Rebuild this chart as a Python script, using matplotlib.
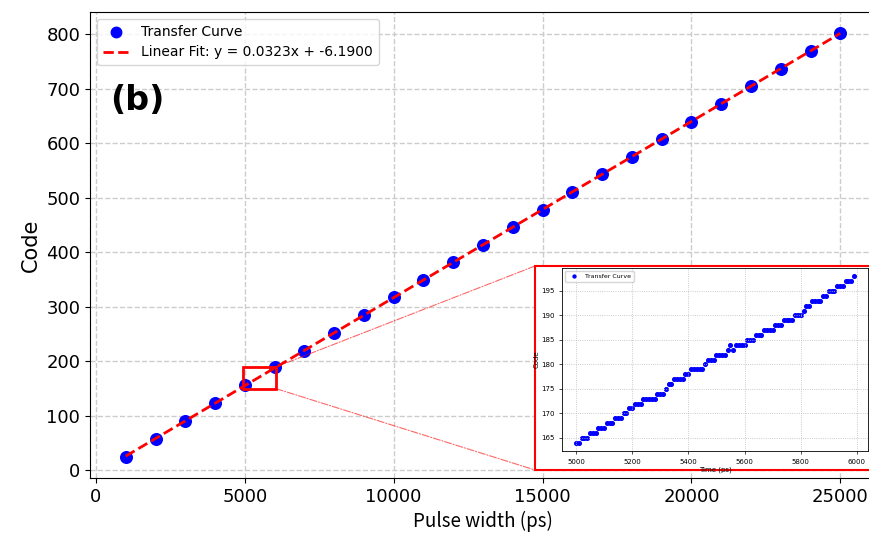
import numpy as np
import matplotlib
matplotlib.use("Agg")
from matplotlib import pyplot as plt
from matplotlib.patches import Rectangle, ConnectionPatch

# main transfer curve (pulse width in ps -> code)
pulse_width = [1000, 2000, 3000, 4000, 5000, 6000, 7000, 8000, 9000, 10000,
               11000, 12000, 13000, 14000, 15000, 16000, 17000, 18000, 19000,
               20000, 21000, 22000, 23000, 24000, 25000]
code = [25, 58, 91, 123, 156, 189, 220, 252, 285, 318,
        350, 382, 414, 446, 478, 511, 543, 575, 608,
        640, 672, 705, 737, 769, 802]
fit_label = 'Linear Fit: y = 0.0323x + -6.1900'

# zoomed region (5000..5990 ps, 10 ps step)
zoom_time = list(range(5000, 6000, 10))
zoom_code = [164, 164, 165, 165, 165, 166, 166, 166, 167, 167,
             167, 168, 168, 168, 169, 169, 169, 170, 170, 171,
             171, 172, 172, 172, 173, 173, 173, 173, 173, 174,
             174, 174, 175, 176, 176, 177, 177, 177, 177, 178,
             178, 179, 179, 179, 179, 179, 180, 181, 181, 181,
             182, 182, 182, 182, 183, 184, 183, 184, 184, 184,
             184, 185, 185, 185, 186, 186, 186, 187, 187, 187,
             187, 188, 188, 188, 189, 189, 189, 189, 190, 190,
             190, 191, 192, 192, 193, 193, 193, 193, 194, 194,
             195, 195, 195, 196, 196, 196, 197, 197, 197, 198]
zoom_box_x = (4950, 6050)
zoom_box_y = (150, 190)

W, H = 869, 535
fig = plt.figure(figsize=(W / 100, H / 100), dpi=100)
ax = fig.add_axes([90 / W, 1 - 478 / H, 786 / W, 466 / H])

ax.scatter(pulse_width, code, s=70, color='blue', label='Transfer Curve', zorder=3)
k, b = np.polyfit(pulse_width, code, 1)
xs = np.array([pulse_width[0], pulse_width[-1]])
ax.plot(xs, k * xs + b, 'r--', lw=2, label=fit_label, zorder=4)
ax.grid(True, linestyle='--', color='#cccccc', lw=1)
ax.set_xlabel('Pulse width (ps)', fontsize=13.5, family=['Noto Sans CJK SC', 'DejaVu Sans'])
ax.set_ylabel('Code', fontsize=15)
ax.tick_params(labelsize=13)
ax.legend(loc='upper left', fontsize=10, markerscale=0.9)
ax.text(0.025, 0.81, '(b)', transform=ax.transAxes, fontsize=24,
        fontweight='bold', ha='left', va='center')

# box marking zoomed region
ax.add_patch(Rectangle((zoom_box_x[0], zoom_box_y[0]),
                       zoom_box_x[1] - zoom_box_x[0], zoom_box_y[1] - zoom_box_y[0],
                       fill=False, edgecolor='red', lw=2, zorder=5))

# inset frame (red border around the whole inset)
frame_l, frame_t, frame_b = 535 / W, 1 - 266 / H, 1 - 470 / H
frame = Rectangle((frame_l, frame_b), 1 - frame_l + 0.01, frame_t - frame_b,
                  transform=fig.transFigure, facecolor='white',
                  edgecolor='red', lw=1.5, zorder=1)
fig.add_artist(frame)

for yb, yf in [(zoom_box_y[1], frame_t), (zoom_box_y[0], frame_b)]:
    con = ConnectionPatch(xyA=(zoom_box_x[1], yb), coordsA='data', axesA=ax,
                          xyB=(frame_l, yf), coordsB='figure fraction',
                          color='red', lw=0.8, linestyle='-.', alpha=0.6)
    fig.add_artist(con)

ins = fig.add_axes([562 / W, 1 - 451 / H, 306 / W, 183 / H], zorder=2)
ins.scatter(zoom_time, zoom_code, s=7, color='blue', label='Transfer Curve')
ins.grid(True, linestyle=':', color='#bbbbbb', lw=0.6)
ins.set_xticks([5000, 5200, 5400, 5600, 5800, 6000])
ins.set_yticks([165, 170, 175, 180, 185, 190, 195])
ins.tick_params(labelsize=5, length=2, width=0.5)
ins.set_xlabel('Time (ps)', fontsize=5, labelpad=1)
ins.set_ylabel('Code', fontsize=5, labelpad=1)
for s in ins.spines.values():
    s.set_linewidth(0.6)
ins.legend(loc='upper left', fontsize=4.5, markerscale=0.8)

plt.savefig('out.png', dpi=100)
